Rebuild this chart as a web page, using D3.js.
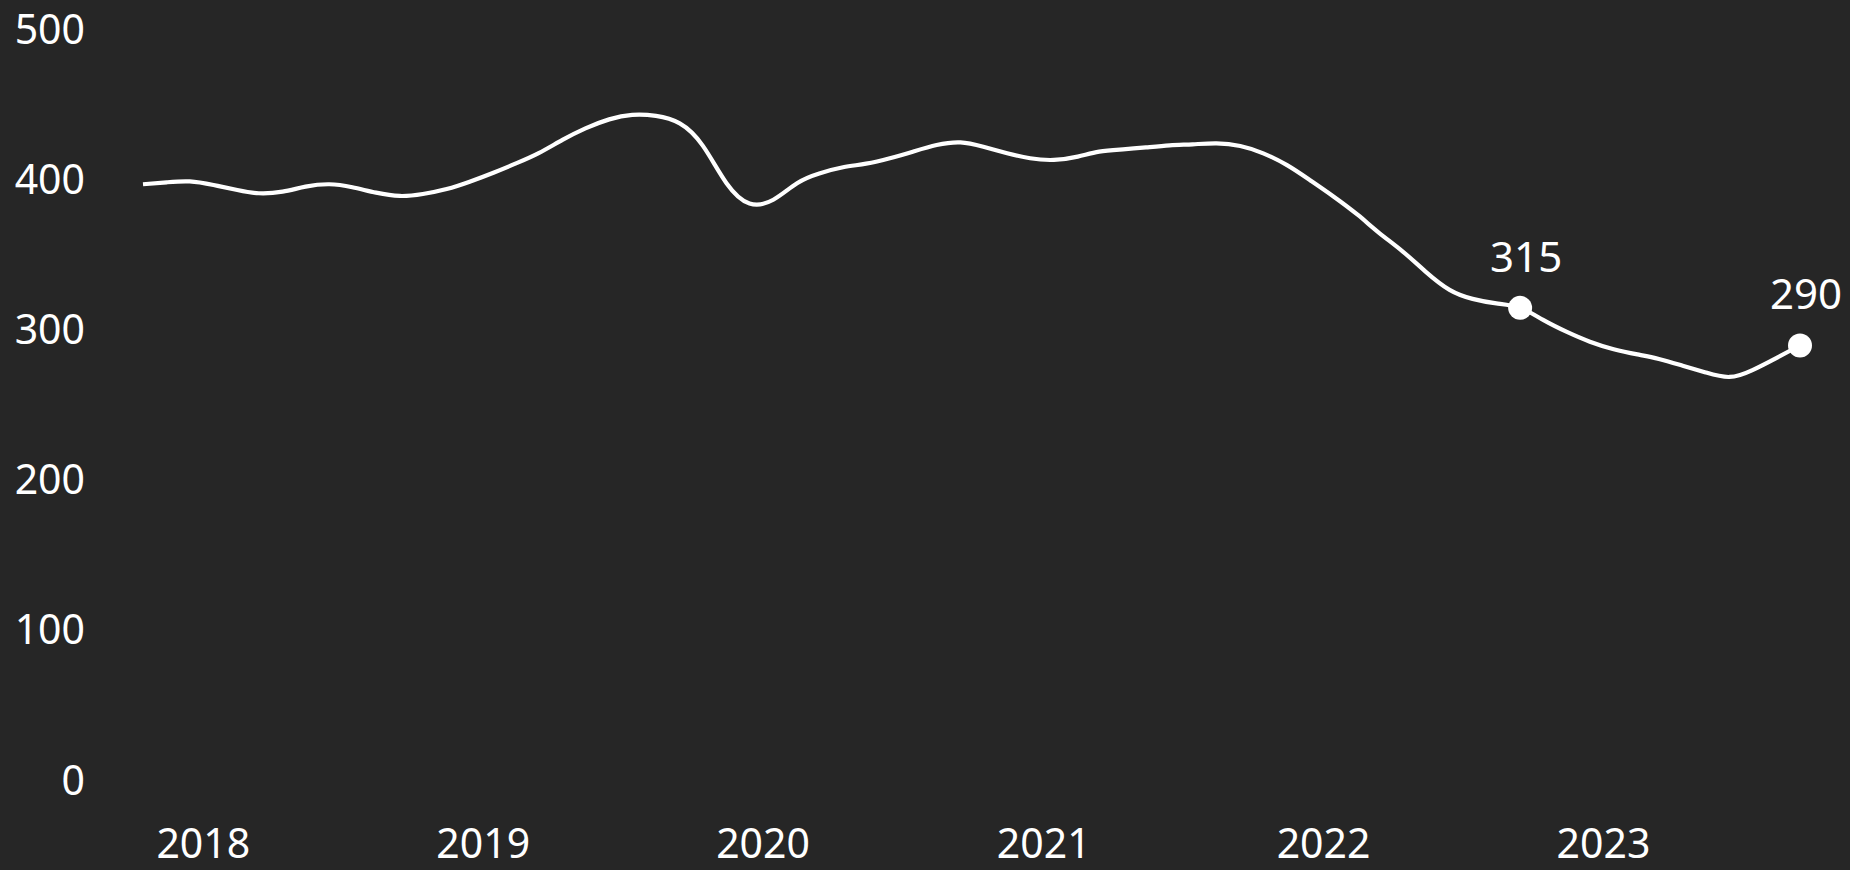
<!DOCTYPE html>
<html lang="en">

<head>
    <meta charset="UTF-8">
    <title>Line chart</title>
    <script src='https://d3js.org/d3.v7.min.js'></script>
    <style>
        body { margin: 0; background: #262626; }
        svg { display: block; }
        text { font-family: 'Noto Sans', sans-serif; }
    </style>
</head>

<body>
    <script>
        // monthly points, Oct 2017 - Sep 2023
        const months = [
            "2017-10", "2017-11", "2017-12",
            "2018-01", "2018-02", "2018-03", "2018-04", "2018-05", "2018-06", "2018-07", "2018-08", "2018-09", "2018-10", "2018-11", "2018-12",
            "2019-01", "2019-02", "2019-03", "2019-04", "2019-05", "2019-06", "2019-07", "2019-08", "2019-09", "2019-10", "2019-11", "2019-12",
            "2020-01", "2020-02", "2020-03", "2020-04", "2020-05", "2020-06", "2020-07", "2020-08", "2020-09", "2020-10", "2020-11", "2020-12",
            "2021-01", "2021-02", "2021-03", "2021-04", "2021-05", "2021-06", "2021-07", "2021-08", "2021-09", "2021-10", "2021-11", "2021-12",
            "2022-01", "2022-02", "2022-03", "2022-04", "2022-05", "2022-06", "2022-07", "2022-08", "2022-09", "2022-10", "2022-11", "2022-12",
            "2023-01", "2023-02", "2023-03", "2023-04", "2023-05", "2023-06", "2023-07", "2023-08", "2023-09"
        ];
        const values = [
            397.3, 398.6, 399.2,
            396.8, 393.5, 391.3, 392.4, 395.7, 397.3, 395.3, 391.7, 389.5, 390.8, 394.1, 399.0,
            405.0, 411.5, 418.0, 426.8, 434.5, 440.5, 443.5, 442.8, 437.8, 423.0, 398.0, 384.5,
            387.0, 398.0, 404.5, 408.6, 411.0, 414.6, 419.0, 423.4, 425.2, 422.3, 418.0, 414.6,
            413.5, 415.7, 419.0, 420.5, 421.8, 423.2, 423.9, 424.5, 422.8, 417.9, 410.0, 400.0,
            389.0, 377.0, 365.0, 352.5, 339.0, 327.0, 321.0, 318.0, 315.0, 307.0, 299.0, 292.5,
            287.5, 284.0, 281.0, 276.5, 272.0, 269.0, 273.6, 281.6, 290.0
        ];
        // highlighted points
        const marked = ["2022-09", "2023-09"];
        const yTicks = [0, 100, 200, 300, 400, 500];

        const width = 1850, height = 870;
        const parse = d3.timeParse("%Y-%m");
        // put each month in the middle of the month
        const data = months.map((m, i) => ({ date: d3.timeDay.offset(parse(m), 14), value: values[i], key: m }));

        const svg = d3.select("body")
            .append("svg")
            .attr("width", width)
            .attr("height", height);

        svg.append("rect").attr("width", width).attr("height", height).attr("fill", "#262626");

        const x = d3.scaleTime()
            .domain(d3.extent(data, d => d.date))
            .range([143, 1800]);
        const y = d3.scaleLinear()
            .domain([0, 500])
            .range([781, 30]);

        // y axis, labels only
        const yAxis = svg.append("g")
            .attr("transform", "translate(85,0)")
            .call(d3.axisLeft(y).tickValues(yTicks).tickSize(0).tickPadding(0));
        yAxis.select(".domain").remove();
        yAxis.attr("font-family", null);
        yAxis.selectAll("text").attr("fill", "#ffffff").style("font-size", "41px");

        // x axis, year labels
        const xAxis = svg.append("g")
            .attr("transform", "translate(0,829)")
            .call(d3.axisBottom(x).ticks(d3.timeYear.every(1)).tickFormat(d3.timeFormat("%Y")).tickSize(0).tickPadding(0));
        xAxis.select(".domain").remove();
        xAxis.attr("font-family", null);
        xAxis.selectAll("text").attr("fill", "#ffffff").style("font-size", "41px");

        // the line
        svg.append("path")
            .datum(data)
            .attr("fill", "none")
            .attr("stroke", "#ffffff")
            .attr("stroke-width", 4.2)
            .attr("d", d3.line()
                .curve(d3.curveNatural)
                .x(d => x(d.date))
                .y(d => y(d.value)));

        // dots + labels
        const pts = data.filter(d => marked.includes(d.key));
        svg.selectAll("circle.dot")
            .data(pts)
            .enter()
            .append("circle")
            .attr("class", "dot")
            .attr("cx", d => x(d.date))
            .attr("cy", d => y(d.value))
            .attr("r", 12)
            .attr("fill", "#ffffff");

        svg.selectAll("text.lbl")
            .data(pts)
            .enter()
            .append("text")
            .attr("class", "lbl")
            .attr("x", d => x(d.date) + 6)
            .attr("y", d => y(d.value) - 36)
            .attr("text-anchor", "middle")
            .attr("fill", "#ffffff")
            .style("font-size", "42px")
            .text(d => d3.format(".0f")(d.value));
    </script>
</body>

</html>
